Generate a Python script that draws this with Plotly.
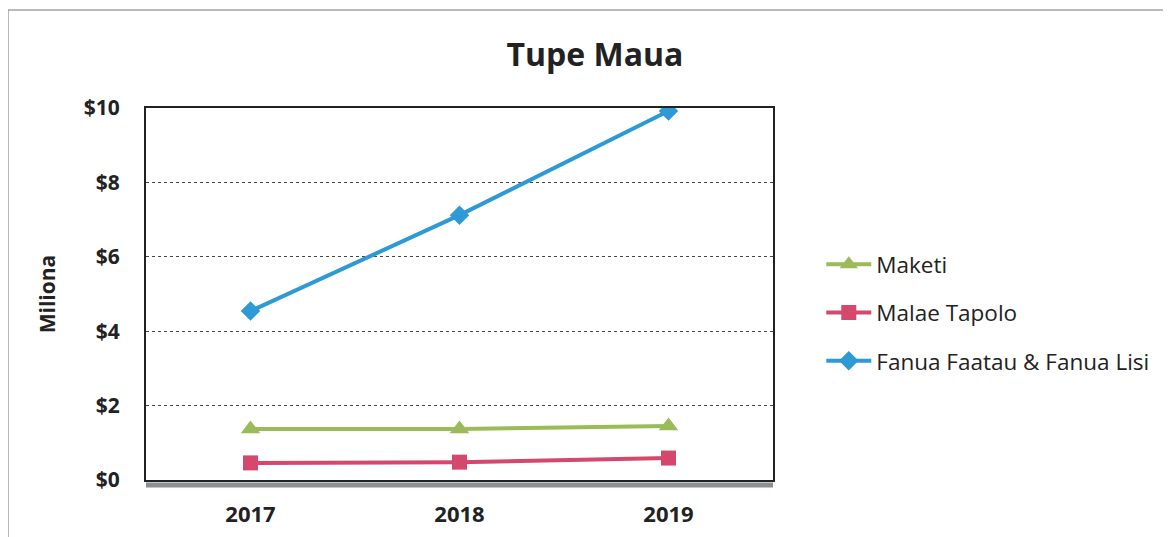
import plotly.graph_objects as go

years = ["2017", "2018", "2019"]
maketi = [1.37, 1.37, 1.45]
malae_tapolo = [0.46, 0.48, 0.59]
fanua = [4.54, 7.12, 9.92]

series = [
    ("Maketi", maketi, "#9BBB59", "triangle-up", 17),
    ("Malae Tapolo", malae_tapolo, "#D4486E", "square", 15),
    ("Fanua Faatau & Fanua Lisi", fanua, "#2D9AD6", "diamond", 15),
]

FONT = "'Open Sans', Lato, sans-serif"

fig = go.Figure()
for i, (name, vals, color, symbol, size) in enumerate(series):
    fig.add_trace(
        go.Scatter(
            x=years,
            y=vals,
            name=name,
            mode="lines+markers",
            line=dict(color=color, width=4),
            marker=dict(symbol=symbol, size=size, color=color),
            legendgroup=f"g{i}",
        )
    )

# page body has an 8px margin, so the figure is sized to fit inside it
fig.update_layout(
    width=1163,
    height=529,
    margin=dict(l=138, r=398, t=100, b=57, autoexpand=False),
    paper_bgcolor="white",
    plot_bgcolor="white",
    font=dict(family=FONT, color="#222222"),
    title=dict(
        text="<b>Tupe Maua</b>",
        x=587 / 1163,
        xanchor="center",
        y=1 - 47 / 529,
        yanchor="middle",
        font=dict(size=32, family=FONT, color="#222222"),
    ),
    legend=dict(
        x=1.077,
        y=0.45,
        xanchor="left",
        yanchor="middle",
        font=dict(size=22.5, family=FONT, color="#222222"),
        traceorder="grouped",
        tracegroupgap=16,
        itemwidth=45,
        bgcolor="rgba(0,0,0,0)",
    ),
    showlegend=True,
)

fig.update_xaxes(
    type="category",
    range=[-0.5, 2.5],
    automargin=False,
    showgrid=False,
    showline=True,
    linecolor="#222222",
    linewidth=2,
    mirror=True,
    ticks="",
    tickfont=dict(size=22, family=FONT, color="#222222", weight="bold"),
    ticklabelstandoff=14,
)
fig.update_yaxes(
    range=[0, 10],
    dtick=2,
    tickprefix="$",
    automargin=False,
    showgrid=True,
    gridcolor="#444444",
    griddash="dot",
    gridwidth=1,
    showline=True,
    linecolor="#222222",
    linewidth=2,
    mirror=True,
    zeroline=False,
    ticks="",
    ticklabelstandoff=20,
    tickfont=dict(size=21, family=FONT, color="#222222", weight="bold"),
    title=dict(text="<b>Miliona</b>", font=dict(size=21, family=FONT, color="#222222"), standoff=22),
)

# outer chart frame and shadow under plot area
fig.add_shape(
    type="rect", xref="paper", yref="paper",
    x0=-138 / 627, x1=1.8, y0=-0.5, y1=1 + 98 / 372,
    line=dict(color="#777777", width=1), fillcolor="rgba(0,0,0,0)", layer="below",
)
fig.add_shape(
    type="line", xref="paper", yref="paper",
    x0=0, x1=1, y0=-5 / 372, y1=-5 / 372,
    line=dict(color="#8a9096", width=5),
)

fig.write_html("out.html")
